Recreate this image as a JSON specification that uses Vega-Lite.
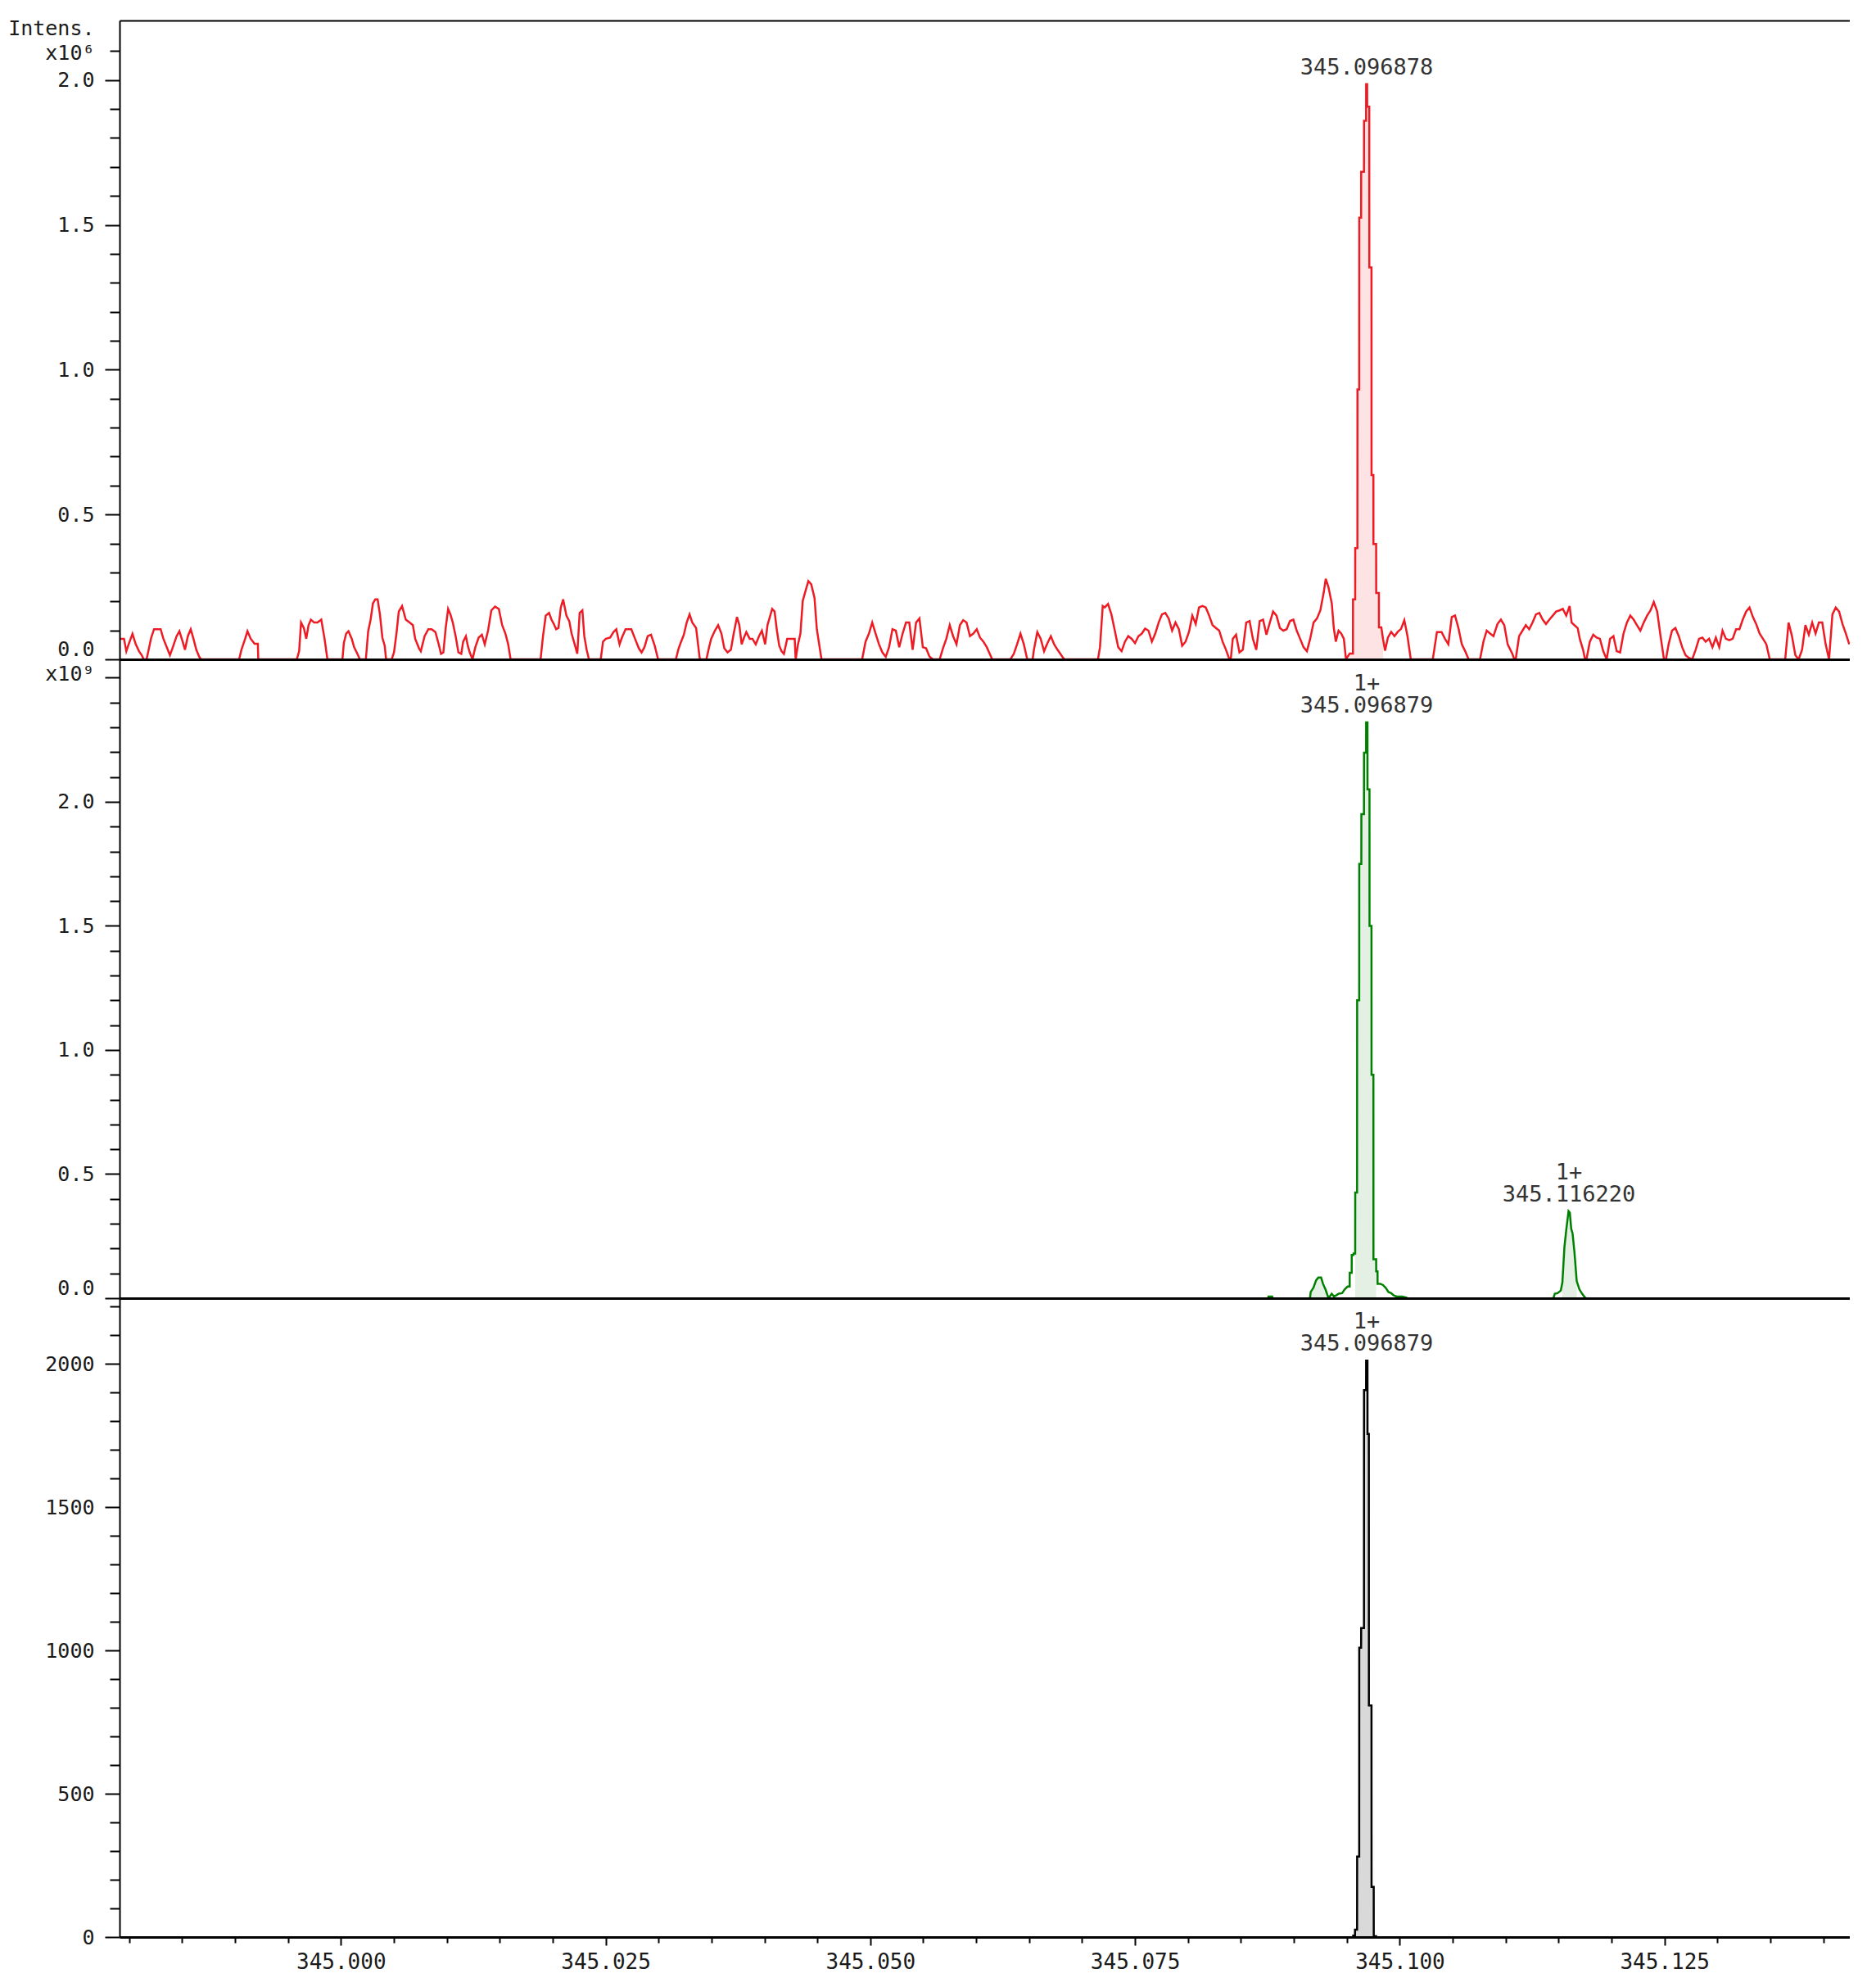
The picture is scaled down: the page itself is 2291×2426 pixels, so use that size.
{
"$schema": "https://vega.github.io/schema/vega-lite/v6.json",
"background": "white",
"padding": {"left": 0, "top": 22, "right": 0, "bottom": 0},
"bounds": "flush",
"spacing": 0,
"config": {
  "view": {"stroke": null},
  "axis": {"grid": false, "labelFont": "DejaVu Sans Mono", "labelFontSize": 25, "labelColor": "#1a1a1a", "titleFont": "DejaVu Sans Mono", "titleFontSize": 25, "titleFontWeight": "normal", "titleColor": "#1a1a1a", "domainColor": "#000000", "tickColor": "#000000", "labelOverlap": false, "labelBound": false},
  "text": {"font": "DejaVu Sans Mono", "fontSize": 27, "color": "#333333"}
},
"datasets": {
"ms1": [
{"mz":344.97916,"i":0.071},{"mz":344.97952,"i":0.071},{"mz":344.97974,"i":0.028},{"mz":344.97996,"i":0.052},{"mz":344.98032,"i":0.088},{"mz":344.98063,"i":0.052},{"mz":344.98094,"i":0.028},{"mz":344.9812,"i":0.014},{"mz":344.98138,"i":0},{"mz":344.98165,"i":0},{"mz":344.98182,"i":0.028},{"mz":344.98209,"i":0.075},{"mz":344.98236,"i":0.104},{"mz":344.98298,"i":0.104},{"mz":344.98324,"i":0.071},{"mz":344.9836,"i":0.038},{"mz":344.98386,"i":0.014},{"mz":344.98418,"i":0.047},{"mz":344.98449,"i":0.08},{"mz":344.98475,"i":0.097},{"mz":344.98506,"i":0.061},{"mz":344.98528,"i":0.033},{"mz":344.98555,"i":0.08},{"mz":344.98582,"i":0.104},{"mz":344.98608,"i":0.071},{"mz":344.98635,"i":0.033},{"mz":344.98662,"i":0.009},{"mz":344.98679,"i":0},
{"mz":344.99039,"i":0},{"mz":344.99061,"i":0.033},{"mz":344.99096,"i":0.071},{"mz":344.99118,"i":0.097},{"mz":344.99149,"i":0.071},{"mz":344.99185,"i":0.054},{"mz":344.99216,"i":0.054},{"mz":344.9922,"i":0},
{"mz":344.99584,"i":0},{"mz":344.99606,"i":0.028},{"mz":344.99624,"i":0.127},{"mz":344.99651,"i":0.108},{"mz":344.99673,"i":0.071},{"mz":344.99695,"i":0.118},{"mz":344.99717,"i":0.137},{"mz":344.99748,"i":0.127},{"mz":344.99779,"i":0.127},{"mz":344.99815,"i":0.137},{"mz":344.99846,"i":0.071},{"mz":344.99873,"i":0},
{"mz":345.00015,"i":0},{"mz":345.00028,"i":0.056},{"mz":345.0005,"i":0.089},{"mz":345.00072,"i":0.097},{"mz":345.00103,"i":0.071},{"mz":345.00125,"i":0.042},{"mz":345.00156,"i":0.019},{"mz":345.00179,"i":0},
{"mz":345.00236,"i":0},{"mz":345.00258,"i":0.097},{"mz":345.00281,"i":0.137},{"mz":345.00303,"i":0.193},{"mz":345.00325,"i":0.207},{"mz":345.00347,"i":0.207},{"mz":345.00369,"i":0.155},{"mz":345.00392,"i":0.075},{"mz":345.00414,"i":0.047},{"mz":345.00427,"i":0},
{"mz":345.0048,"i":0},{"mz":345.00502,"i":0.024},{"mz":345.00525,"i":0.089},{"mz":345.00547,"i":0.165},{"mz":345.00578,"i":0.184},{"mz":345.00613,"i":0.137},{"mz":345.00649,"i":0.127},{"mz":345.0068,"i":0.118},{"mz":345.00702,"i":0.071},{"mz":345.00738,"i":0.038},{"mz":345.00755,"i":0.028},{"mz":345.00791,"i":0.08},{"mz":345.00826,"i":0.104},{"mz":345.00857,"i":0.104},{"mz":345.00893,"i":0.094},{"mz":345.00924,"i":0.052},{"mz":345.00946,"i":0.019},{"mz":345.00968,"i":0.024},{"mz":345.0099,"i":0.108},{"mz":345.01013,"i":0.174},{"mz":345.01035,"i":0.155},{"mz":345.01057,"i":0.127},{"mz":345.01084,"i":0.08},{"mz":345.0111,"i":0.024},{"mz":345.01137,"i":0.019},{"mz":345.01155,"i":0.061},{"mz":345.01181,"i":0.08},{"mz":345.01199,"i":0.047},{"mz":345.01217,"i":0.024},{"mz":345.01243,"i":0},{"mz":345.0127,"i":0.042},{"mz":345.01301,"i":0.075},{"mz":345.01332,"i":0.085},{"mz":345.01359,"i":0.052},{"mz":345.0139,"i":0.099},{"mz":345.01421,"i":0.169},{"mz":345.01456,"i":0.182},{"mz":345.01492,"i":0.174},{"mz":345.01523,"i":0.118},{"mz":345.01554,"i":0.089},{"mz":345.0158,"i":0.052},{"mz":345.01603,"i":0},
{"mz":345.01886,"i":0},{"mz":345.01909,"i":0.08},{"mz":345.01935,"i":0.151},{"mz":345.01966,"i":0.16},{"mz":345.01989,"i":0.137},{"mz":345.02011,"i":0.122},{"mz":345.02033,"i":0.104},{"mz":345.02055,"i":0.108},{"mz":345.02077,"i":0.179},{"mz":345.02099,"i":0.207},{"mz":345.0213,"i":0.151},{"mz":345.02157,"i":0.132},{"mz":345.02179,"i":0.089},{"mz":345.02201,"i":0.061},{"mz":345.02233,"i":0.019},{"mz":345.02255,"i":0.16},{"mz":345.02281,"i":0.169},{"mz":345.02299,"i":0.08},{"mz":345.02321,"i":0.033},{"mz":345.02343,"i":0},
{"mz":345.02454,"i":0},{"mz":345.02476,"i":0.061},{"mz":345.02503,"i":0.071},{"mz":345.02543,"i":0.075},{"mz":345.02574,"i":0.094},{"mz":345.02601,"i":0.104},{"mz":345.02632,"i":0.052},{"mz":345.02654,"i":0.075},{"mz":345.02689,"i":0.104},{"mz":345.02743,"i":0.104},{"mz":345.02778,"i":0.071},{"mz":345.02814,"i":0.038},{"mz":345.0284,"i":0.024},{"mz":345.02867,"i":0.042},{"mz":345.02898,"i":0.08},{"mz":345.02929,"i":0.085},{"mz":345.02964,"i":0.047},{"mz":345.02996,"i":0},
{"mz":345.03164,"i":0},{"mz":345.03186,"i":0.033},{"mz":345.03208,"i":0.056},{"mz":345.03239,"i":0.085},{"mz":345.03266,"i":0.127},{"mz":345.03293,"i":0.155},{"mz":345.03319,"i":0.127},{"mz":345.03355,"i":0.108},{"mz":345.03373,"i":0.052},{"mz":345.0339,"i":0},
{"mz":345.03452,"i":0},{"mz":345.03475,"i":0.038},{"mz":345.03497,"i":0.071},{"mz":345.03532,"i":0.099},{"mz":345.03563,"i":0.118},{"mz":345.03594,"i":0.089},{"mz":345.03621,"i":0.038},{"mz":345.03652,"i":0.024},{"mz":345.03683,"i":0.033},{"mz":345.0371,"i":0.089},{"mz":345.03741,"i":0.146},{"mz":345.03763,"i":0.118},{"mz":345.03785,"i":0.052},{"mz":345.03807,"i":0.075},{"mz":345.03829,"i":0.094},{"mz":345.03861,"i":0.071},{"mz":345.03887,"i":0.071},{"mz":345.03918,"i":0.052},{"mz":345.03949,"i":0.08},{"mz":345.03976,"i":0.099},{"mz":345.04007,"i":0.052},{"mz":345.04029,"i":0.118},{"mz":345.04051,"i":0.146},{"mz":345.04073,"i":0.174},{"mz":345.04096,"i":0.165},{"mz":345.04118,"i":0.099},{"mz":345.0414,"i":0.047},{"mz":345.04162,"i":0.028},{"mz":345.04184,"i":0.019},{"mz":345.04215,"i":0.071},{"mz":345.04251,"i":0.071},{"mz":345.04286,"i":0.071},{"mz":345.04295,"i":0},{"mz":345.04317,"i":0.052},{"mz":345.0434,"i":0.089},{"mz":345.04362,"i":0.202},{"mz":345.04384,"i":0.231},{"mz":345.04415,"i":0.27},{"mz":345.04442,"i":0.259},{"mz":345.04473,"i":0.212},{"mz":345.04495,"i":0.104},{"mz":345.04517,"i":0.052},{"mz":345.04539,"i":0},
{"mz":345.04923,"i":0},{"mz":345.04955,"i":0.061},{"mz":345.04987,"i":0.089},{"mz":345.05018,"i":0.127},{"mz":345.0505,"i":0.089},{"mz":345.05082,"i":0.052},{"mz":345.05114,"i":0.024},{"mz":345.05146,"i":0.009},{"mz":345.05177,"i":0.042},{"mz":345.05209,"i":0.104},{"mz":345.05241,"i":0.099},{"mz":345.05273,"i":0.042},{"mz":345.05305,"i":0.089},{"mz":345.05337,"i":0.127},{"mz":345.05368,"i":0.127},{"mz":345.054,"i":0.033},{"mz":345.05432,"i":0.127},{"mz":345.05464,"i":0.141},{"mz":345.05496,"i":0.042},{"mz":345.05527,"i":0.038},{"mz":345.05559,"i":0.009},{"mz":345.05591,"i":0},
{"mz":345.05655,"i":0},{"mz":345.05686,"i":0.038},{"mz":345.05718,"i":0.071},{"mz":345.0575,"i":0.118},{"mz":345.05782,"i":0.08},{"mz":345.05814,"i":0.052},{"mz":345.05846,"i":0.118},{"mz":345.05877,"i":0.135},{"mz":345.05909,"i":0.127},{"mz":345.05941,"i":0.08},{"mz":345.05973,"i":0.089},{"mz":345.06005,"i":0.104},{"mz":345.06036,"i":0.075},{"mz":345.06068,"i":0.061},{"mz":345.061,"i":0.042},{"mz":345.06151,"i":0},
{"mz":345.06323,"i":0},{"mz":345.06355,"i":0.019},{"mz":345.06386,"i":0.052},{"mz":345.06418,"i":0.089},{"mz":345.0645,"i":0.052},{"mz":345.06482,"i":0},{"mz":345.06533,"i":0},{"mz":345.06545,"i":0.033},{"mz":345.06577,"i":0.094},{"mz":345.06609,"i":0.071},{"mz":345.06641,"i":0.028},{"mz":345.06673,"i":0.056},{"mz":345.06705,"i":0.08},{"mz":345.06736,"i":0.052},{"mz":345.06768,"i":0.033},{"mz":345.06813,"i":0.009},{"mz":345.06832,"i":0},
{"mz":345.0715,"i":0},{"mz":345.07169,"i":0.042},{"mz":345.07195,"i":0.184},{"mz":345.07214,"i":0.179},{"mz":345.07245,"i":0.191},{"mz":345.07277,"i":0.155},{"mz":345.07309,"i":0.099},{"mz":345.07341,"i":0.042},{"mz":345.07373,"i":0.028},{"mz":345.07405,"i":0.061},{"mz":345.07436,"i":0.08},{"mz":345.07468,"i":0.071},{"mz":345.075,"i":0.056},{"mz":345.07532,"i":0.08},{"mz":345.07564,"i":0.089},{"mz":345.07595,"i":0.106},{"mz":345.07627,"i":0.099},{"mz":345.07659,"i":0.061},{"mz":345.07691,"i":0.089},{"mz":345.07723,"i":0.127},{"mz":345.07754,"i":0.155},{"mz":345.07786,"i":0.16},{"mz":345.07818,"i":0.141},{"mz":345.0785,"i":0.099},{"mz":345.07882,"i":0.127},{"mz":345.07914,"i":0.104},{"mz":345.07945,"i":0.047},{"mz":345.07977,"i":0.061},{"mz":345.08009,"i":0.094},{"mz":345.08041,"i":0.151},{"mz":345.08073,"i":0.122},{"mz":345.08104,"i":0.179},{"mz":345.08136,"i":0.184},{"mz":345.08168,"i":0.179},{"mz":345.082,"i":0.151},{"mz":345.08232,"i":0.118},{"mz":345.08264,"i":0.108},{"mz":345.08295,"i":0.099},{"mz":345.08327,"i":0.061},{"mz":345.08359,"i":0.033},{"mz":345.08391,"i":0},
{"mz":345.08404,"i":0},{"mz":345.08423,"i":0.071},{"mz":345.08454,"i":0.085},{"mz":345.08486,"i":0.024},{"mz":345.08518,"i":0.033},{"mz":345.0855,"i":0.127},{"mz":345.08582,"i":0.132},{"mz":345.08613,"i":0.071},{"mz":345.08645,"i":0.033},{"mz":345.08677,"i":0.132},{"mz":345.08709,"i":0.137},{"mz":345.08741,"i":0.085},{"mz":345.08773,"i":0.127},{"mz":345.08804,"i":0.165},{"mz":345.08836,"i":0.151},{"mz":345.08868,"i":0.108},{"mz":345.089,"i":0.099},{"mz":345.08932,"i":0.104},{"mz":345.08963,"i":0.132},{"mz":345.08995,"i":0.137},{"mz":345.09027,"i":0.099},{"mz":345.09059,"i":0.071},{"mz":345.09091,"i":0.042},{"mz":345.09123,"i":0.028},{"mz":345.09154,"i":0.071},{"mz":345.09186,"i":0.127},{"mz":345.09218,"i":0.141},{"mz":345.0925,"i":0.169},{"mz":345.09282,"i":0.231},{"mz":345.09301,"i":0.278},{"mz":345.09326,"i":0.25},{"mz":345.09358,"i":0.193},{"mz":345.09377,"i":0.108},{"mz":345.09396,"i":0.061},{"mz":345.09422,"i":0.099},{"mz":345.09447,"i":0.089},{"mz":345.09472,"i":0.071},{"mz":345.09492,"i":0},
{"mz":345.09527,"i":0.02},{"mz":345.09558,"i":0.02},{"mz":345.095585,"i":0.207},{"mz":345.09579,"i":0.207},{"mz":345.095795,"i":0.384},{"mz":345.096,"i":0.384},{"mz":345.096005,"i":0.932},{"mz":345.09617,"i":0.932},{"mz":345.096175,"i":1.525},{"mz":345.09635,"i":1.525},{"mz":345.096355,"i":1.683},{"mz":345.09662,"i":1.683},{"mz":345.096625,"i":1.859},{"mz":345.09682,"i":1.859},{"mz":345.096825,"i":1.986},{"mz":345.09692,"i":1.986},{"mz":345.096925,"i":1.908},{"mz":345.09712,"i":1.908},{"mz":345.097125,"i":1.353},{"mz":345.09733,"i":1.353},{"mz":345.097335,"i":0.636},{"mz":345.09751,"i":0.636},{"mz":345.097515,"i":0.398},{"mz":345.09777,"i":0.398},{"mz":345.097775,"i":0.229},{"mz":345.09803,"i":0.229},{"mz":345.098035,"i":0.11},{"mz":345.09826,"i":0.11},{"mz":345.09842,"i":0.07},{"mz":345.09861,"i":0.03},{"mz":345.09888,"i":0.075},{"mz":345.09919,"i":0.095},{"mz":345.0995,"i":0.08},{"mz":345.09981,"i":0.095},{"mz":345.10012,"i":0.105},{"mz":345.10043,"i":0.135},{"mz":345.10073,"i":0.08},{"mz":345.10104,"i":0},
{"mz":345.10312,"i":0},{"mz":345.10351,"i":0.094},{"mz":345.10395,"i":0.094},{"mz":345.10427,"i":0.071},{"mz":345.10459,"i":0.052},{"mz":345.10491,"i":0.146},{"mz":345.10522,"i":0.151},{"mz":345.10554,"i":0.108},{"mz":345.10586,"i":0.052},{"mz":345.10618,"i":0.028},{"mz":345.1065,"i":0},
{"mz":345.10758,"i":0},{"mz":345.1079,"i":0.061},{"mz":345.10821,"i":0.099},{"mz":345.10853,"i":0.089},{"mz":345.10885,"i":0.08},{"mz":345.10923,"i":0.122},{"mz":345.10955,"i":0.137},{"mz":345.10987,"i":0.118},{"mz":345.11019,"i":0.052},{"mz":345.11063,"i":0.019},{"mz":345.11082,"i":0},{"mz":345.11095,"i":0},{"mz":345.11127,"i":0.08},{"mz":345.11159,"i":0.099},{"mz":345.1119,"i":0.118},{"mz":345.11222,"i":0.104},{"mz":345.11254,"i":0.127},{"mz":345.11286,"i":0.155},{"mz":345.11318,"i":0.16},{"mz":345.1135,"i":0.137},{"mz":345.11381,"i":0.122},{"mz":345.11413,"i":0.137},{"mz":345.11445,"i":0.151},{"mz":345.11477,"i":0.165},{"mz":345.11509,"i":0.169},{"mz":345.1154,"i":0.174},{"mz":345.11572,"i":0.151},{"mz":345.11604,"i":0.184},{"mz":345.11623,"i":0.127},{"mz":345.11649,"i":0.118},{"mz":345.1168,"i":0.108},{"mz":345.117,"i":0.071},{"mz":345.11731,"i":0.033},{"mz":345.1175,"i":0},
{"mz":345.11763,"i":0},{"mz":345.11795,"i":0.061},{"mz":345.11827,"i":0.085},{"mz":345.11859,"i":0.075},{"mz":345.1189,"i":0.071},{"mz":345.11922,"i":0.028},{"mz":345.11954,"i":0},{"mz":345.11986,"i":0.071},{"mz":345.12018,"i":0.08},{"mz":345.12049,"i":0.028},{"mz":345.12081,"i":0.024},{"mz":345.12113,"i":0.089},{"mz":345.12145,"i":0.127},{"mz":345.12177,"i":0.151},{"mz":345.12209,"i":0.137},{"mz":345.1224,"i":0.118},{"mz":345.12272,"i":0.099},{"mz":345.12304,"i":0.127},{"mz":345.12336,"i":0.151},{"mz":345.12368,"i":0.169},{"mz":345.12399,"i":0.198},{"mz":345.12431,"i":0.165},{"mz":345.12463,"i":0.08},{"mz":345.12495,"i":0},
{"mz":345.12514,"i":0},{"mz":345.12539,"i":0.052},{"mz":345.12571,"i":0.099},{"mz":345.12603,"i":0.108},{"mz":345.12635,"i":0.08},{"mz":345.12667,"i":0.042},{"mz":345.12699,"i":0.014},{"mz":345.1273,"i":0.005},{"mz":345.12762,"i":0},{"mz":345.12794,"i":0.033},{"mz":345.12826,"i":0.071},{"mz":345.12858,"i":0.075},{"mz":345.12889,"i":0.061},{"mz":345.12921,"i":0.071},{"mz":345.12953,"i":0.042},{"mz":345.12985,"i":0.075},{"mz":345.13017,"i":0.042},{"mz":345.13048,"i":0.099},{"mz":345.1308,"i":0.071},{"mz":345.13112,"i":0.066},{"mz":345.13144,"i":0.071},{"mz":345.13176,"i":0.104},{"mz":345.13208,"i":0.104},{"mz":345.13239,"i":0.137},{"mz":345.13271,"i":0.165},{"mz":345.13303,"i":0.179},{"mz":345.13335,"i":0.146},{"mz":345.13366,"i":0.122},{"mz":345.13398,"i":0.089},{"mz":345.1343,"i":0.071},{"mz":345.13462,"i":0.052},{"mz":345.13494,"i":0},
{"mz":345.1364,"i":0},{"mz":345.13672,"i":0.127},{"mz":345.13704,"i":0.08},{"mz":345.13736,"i":0.014},{"mz":345.13767,"i":0},{"mz":345.13799,"i":0.033},{"mz":345.13831,"i":0.118},{"mz":345.13863,"i":0.085},{"mz":345.13895,"i":0.127},{"mz":345.13927,"i":0.089},{"mz":345.13958,"i":0.127},{"mz":345.1399,"i":0.127},{"mz":345.14022,"i":0.052},{"mz":345.14054,"i":0},{"mz":345.14086,"i":0.155},{"mz":345.14117,"i":0.179},{"mz":345.14149,"i":0.165},{"mz":345.14181,"i":0.122},{"mz":345.14213,"i":0.089},{"mz":345.14245,"i":0.052}
],
"lab1": [{"mz":345.09687,"i":1.986,"label":"345.096878","charge":""}],
"ms2": [
{"mz":345.08756,"i":0,"seg":"a"},{"mz":345.0876,"i":0.007,"seg":"a"},{"mz":345.08795,"i":0.007,"seg":"a"},{"mz":345.088,"i":0,"seg":"a"},
{"mz":345.09152,"i":0,"seg":"b"},{"mz":345.09159,"i":0.025,"seg":"b"},{"mz":345.09185,"i":0.042,"seg":"b"},{"mz":345.0921,"i":0.072,"seg":"b"},{"mz":345.09231,"i":0.083,"seg":"b"},{"mz":345.09257,"i":0.083,"seg":"b"},{"mz":345.09275,"i":0.058,"seg":"b"},{"mz":345.09301,"i":0.033,"seg":"b"},{"mz":345.09321,"i":0.007,"seg":"b"},{"mz":345.09339,"i":0.007,"seg":"b"},{"mz":345.09357,"i":0.018,"seg":"b"},{"mz":345.09378,"i":0.007,"seg":"b"},{"mz":345.09399,"i":0.011,"seg":"b"},{"mz":345.09424,"i":0.018,"seg":"b"},{"mz":345.09455,"i":0.02,"seg":"b"},{"mz":345.09481,"i":0.036,"seg":"b"},{"mz":345.09507,"i":0.047,"seg":"b"},{"mz":345.09527,"i":0.047,"seg":"b"},
{"mz":345.095275,"i":0.102,"seg":"b"},{"mz":345.09546,"i":0.102,"seg":"b"},{"mz":345.095465,"i":0.174,"seg":"b"},{"mz":345.09563,"i":0.174,"seg":"b"},{"mz":345.095635,"i":0.18,"seg":"b"},{"mz":345.09579,"i":0.18,"seg":"b"},{"mz":345.095795,"i":0.426,"seg":"b"},{"mz":345.09597,"i":0.426,"seg":"b"},{"mz":345.095975,"i":1.2,"seg":"b"},{"mz":345.09617,"i":1.2,"seg":"b"},{"mz":345.096175,"i":1.75,"seg":"b"},{"mz":345.09637,"i":1.75,"seg":"b"},{"mz":345.096375,"i":1.95,"seg":"b"},{"mz":345.09662,"i":1.95,"seg":"b"},{"mz":345.096625,"i":2.198,"seg":"b"},{"mz":345.09682,"i":2.198,"seg":"b"},{"mz":345.096825,"i":2.32,"seg":"b"},{"mz":345.09695,"i":2.32,"seg":"b"},{"mz":345.096955,"i":2.05,"seg":"b"},{"mz":345.09714,"i":2.05,"seg":"b"},{"mz":345.097145,"i":1.5,"seg":"b"},{"mz":345.09733,"i":1.5,"seg":"b"},{"mz":345.097335,"i":0.9,"seg":"b"},{"mz":345.09751,"i":0.9,"seg":"b"},{"mz":345.097515,"i":0.157,"seg":"b"},{"mz":345.09777,"i":0.157,"seg":"b"},{"mz":345.097775,"i":0.108,"seg":"b"},{"mz":345.0979,"i":0.108,"seg":"b"},{"mz":345.097905,"i":0.058,"seg":"b"},{"mz":345.09816,"i":0.058,"seg":"b"},{"mz":345.09842,"i":0.053,"seg":"b"},{"mz":345.09867,"i":0.042,"seg":"b"},{"mz":345.09893,"i":0.025,"seg":"b"},{"mz":345.09919,"i":0.02,"seg":"b"},{"mz":345.09944,"i":0.011,"seg":"b"},{"mz":345.09971,"i":0.007,"seg":"b"},{"mz":345.10022,"i":0.007,"seg":"b"},{"mz":345.1006,"i":0.003,"seg":"b"},{"mz":345.10073,"i":0,"seg":"b"},
{"mz":345.11451,"i":0,"seg":"c"},{"mz":345.11464,"i":0.018,"seg":"c"},{"mz":345.1149,"i":0.02,"seg":"c"},{"mz":345.11521,"i":0.031,"seg":"c"},{"mz":345.11536,"i":0.064,"seg":"c"},{"mz":345.11555,"i":0.206,"seg":"c"},{"mz":345.11573,"i":0.278,"seg":"c"},{"mz":345.11594,"i":0.351,"seg":"c"},{"mz":345.11606,"i":0.345,"seg":"c"},{"mz":345.11619,"i":0.28,"seg":"c"},{"mz":345.11632,"i":0.261,"seg":"c"},{"mz":345.1165,"i":0.184,"seg":"c"},{"mz":345.11671,"i":0.069,"seg":"c"},{"mz":345.11696,"i":0.036,"seg":"c"},{"mz":345.11722,"i":0.018,"seg":"c"},{"mz":345.11748,"i":0.003,"seg":"c"},{"mz":345.1176,"i":0,"seg":"c"}
],
"lab2": [{"mz":345.09687,"i":2.32,"label":"345.096879","charge":"1+"},{"mz":345.11598,"i":0.351,"label":"345.116220","charge":"1+"}],
"ms3": [
{"mz":345.0955,"i":0},{"mz":345.0956,"i":0},{"mz":345.095605,"i":5},{"mz":345.09577,"i":5},{"mz":345.095775,"i":26},{"mz":345.09597,"i":26},{"mz":345.095975,"i":281},{"mz":345.09617,"i":281},{"mz":345.096175,"i":1009},{"mz":345.09635,"i":1009},{"mz":345.096355,"i":1078},{"mz":345.09662,"i":1078},{"mz":345.096625,"i":1908},{"mz":345.09682,"i":1908},{"mz":345.096825,"i":2011},{"mz":345.09695,"i":2011},{"mz":345.096955,"i":1755},{"mz":345.09708,"i":1755},{"mz":345.097085,"i":808},{"mz":345.09733,"i":808},{"mz":345.097335,"i":175},{"mz":345.09754,"i":175},{"mz":345.097545,"i":3},{"mz":345.09777,"i":3},{"mz":345.097775,"i":0}
],
"lab3": [{"mz":345.09687,"i":2011,"label":"345.096879","charge":"1+"}]
},
"vconcat": [
{
 "width": 2113, "height": 780,
 "layer": [
  {"data": {"name": "ms1"},
   "transform": [{"filter": {"field": "mz", "range": [345.0952, 345.0986]}}],
   "mark": {"type": "area", "color": "#fde3e3", "clip": true},
   "encoding": {
    "x": {"field": "mz", "type": "quantitative", "scale": {"domain": [344.9791, 345.1425], "nice": false, "zero": false}, "axis": null},
    "y": {"field": "i", "type": "quantitative", "scale": {"domain": [0, 2.2056], "nice": false}, "axis": {"orient": "left", "values": [0.1,0.2,0.3,0.4,0.6,0.7,0.8,0.9,1.1,1.2,1.3,1.4,1.6,1.7,1.8,1.9,2.1], "tickSize": 12, "tickWidth": 2, "labels": false, "domain": false, "title": null, "zindex": 1}}
   }},
  {"data": {"name": "ms1"},
   "mark": {"type": "line", "color": "#ed1c24", "strokeWidth": 2.5, "clip": true},
   "encoding": {
    "x": {"field": "mz", "type": "quantitative", "scale": {"domain": [344.9791, 345.1425], "nice": false, "zero": false}, "axis": {"orient": "bottom", "domain": true, "domainWidth": 3, "ticks": false, "labels": false, "title": null, "zindex": 1}},
    "y": {"field": "i", "type": "quantitative", "scale": {"domain": [0, 2.2056], "nice": false}, "axis": {"orient": "left", "values": [0, 0.5, 1, 1.5, 2], "format": ".1f", "tickSize": 18, "tickWidth": 2, "domainWidth": 2, "labelPadding": 13, "labelFlush": true, "title": ["Intens.", "x10⁶"], "titleAngle": 0, "titleAlign": "right", "titleBaseline": "alphabetic", "titleX": -31, "titleY": 17, "titleLineHeight": 30, "titlePadding": 0, "minExtent": 146, "maxExtent": 146, "zindex": 1}}
   }},
  {"data": {"name": "lab1"},
   "mark": {"type": "text", "baseline": "bottom", "dy": -6},
   "encoding": {
    "x": {"field": "mz", "type": "quantitative", "scale": {"domain": [344.9791, 345.1425], "nice": false, "zero": false}, "axis": {"orient": "top", "domain": true, "domainWidth": 2, "ticks": false, "labels": false, "title": null}},
    "y": {"field": "i", "type": "quantitative", "scale": {"domain": [0, 2.2056], "nice": false}, "axis": null},
    "text": {"field": "label"}
   }}
 ],
 "resolve": {"axis": {"x": "independent", "y": "independent"}}
},
{
 "width": 2113, "height": 780,
 "layer": [
  {"data": {"name": "ms2"},
   "transform": [{"filter": {"field": "mz", "range": [345.0915, 345.0932]}}],
   "mark": {"type": "area", "color": "#e3f0e3", "clip": true},
   "encoding": {
    "x": {"field": "mz", "type": "quantitative", "scale": {"domain": [344.9791, 345.1425], "nice": false, "zero": false}, "axis": null},
    "y": {"field": "i", "type": "quantitative", "scale": {"domain": [0, 2.574], "nice": false}, "axis": {"orient": "left", "values": [0.1,0.2,0.3,0.4,0.6,0.7,0.8,0.9,1.1,1.2,1.3,1.4,1.6,1.7,1.8,1.9,2.1,2.2,2.3,2.4], "tickSize": 12, "tickWidth": 2, "labels": false, "domain": false, "title": null, "zindex": 1}}
   }},
  {"data": {"name": "ms2"},
   "transform": [{"filter": {"field": "mz", "range": [345.0957, 345.0978]}}],
   "mark": {"type": "area", "color": "#e3f0e3", "clip": true},
   "encoding": {
    "x": {"field": "mz", "type": "quantitative", "scale": {"domain": [344.9791, 345.1425], "nice": false, "zero": false}, "axis": null},
    "y": {"field": "i", "type": "quantitative", "scale": {"domain": [0, 2.574], "nice": false}, "axis": null}
   }},
  {"data": {"name": "ms2"},
   "transform": [{"filter": {"field": "mz", "range": [345.1153, 345.1168]}}],
   "mark": {"type": "area", "color": "#e3f0e3", "clip": true},
   "encoding": {
    "x": {"field": "mz", "type": "quantitative", "scale": {"domain": [344.9791, 345.1425], "nice": false, "zero": false}, "axis": null},
    "y": {"field": "i", "type": "quantitative", "scale": {"domain": [0, 2.574], "nice": false}, "axis": null}
   }},
  {"data": {"name": "ms2"},
   "mark": {"type": "line", "color": "#008000", "strokeWidth": 2.5, "clip": true},
   "encoding": {
    "x": {"field": "mz", "type": "quantitative", "scale": {"domain": [344.9791, 345.1425], "nice": false, "zero": false}, "axis": {"orient": "bottom", "domain": true, "domainWidth": 3, "ticks": false, "labels": false, "title": null, "zindex": 1}},
    "y": {"field": "i", "type": "quantitative", "scale": {"domain": [0, 2.574], "nice": false}, "axis": {"orient": "left", "values": [0, 0.5, 1, 1.5, 2, 2.5], "labelExpr": "datum.value > 2.4 ? '' : format(datum.value, '.1f')", "tickSize": 18, "tickWidth": 2, "domainWidth": 2, "labelPadding": 13, "labelFlush": true, "title": "x10⁹", "titleAngle": 0, "titleAlign": "right", "titleBaseline": "alphabetic", "titleX": -31, "titleY": 25, "titlePadding": 0, "minExtent": 146, "maxExtent": 146, "zindex": 1}},
    "detail": {"field": "seg"}
   }},
  {"data": {"name": "lab2"},
   "mark": {"type": "text", "baseline": "bottom", "dy": -6},
   "encoding": {
    "x": {"field": "mz", "type": "quantitative", "scale": {"domain": [344.9791, 345.1425], "nice": false, "zero": false}, "axis": null},
    "y": {"field": "i", "type": "quantitative", "scale": {"domain": [0, 2.574], "nice": false}, "axis": null},
    "text": {"field": "label"}
   }},
  {"data": {"name": "lab2"},
   "mark": {"type": "text", "baseline": "bottom", "dy": -33},
   "encoding": {
    "x": {"field": "mz", "type": "quantitative", "scale": {"domain": [344.9791, 345.1425], "nice": false, "zero": false}, "axis": null},
    "y": {"field": "i", "type": "quantitative", "scale": {"domain": [0, 2.574], "nice": false}, "axis": null},
    "text": {"field": "charge"}
   }}
 ],
 "resolve": {"axis": {"x": "independent", "y": "independent"}}
},
{
 "width": 2113, "height": 780,
 "layer": [
  {"data": {"name": "ms3"},
   "mark": {"type": "area", "color": "#d9d9d9", "clip": true},
   "encoding": {
    "x": {"field": "mz", "type": "quantitative", "scale": {"domain": [344.9791, 345.1425], "nice": false, "zero": false}, "axis": {"orient": "bottom", "values": [344.98,344.985,344.99,344.995,345.005,345.01,345.015,345.02,345.03,345.035,345.04,345.045,345.055,345.06,345.065,345.07,345.08,345.085,345.09,345.095,345.105,345.11,345.115,345.12,345.13,345.135,345.14], "tickSize": 7, "tickWidth": 2, "labels": false, "domain": false, "title": null, "zindex": 1}},
    "y": {"field": "i", "type": "quantitative", "scale": {"domain": [0, 2228.6], "nice": false}, "axis": {"orient": "left", "values": [100,200,300,400,600,700,800,900,1100,1200,1300,1400,1600,1700,1800,1900,2100,2200], "tickSize": 12, "tickWidth": 2, "labels": false, "domain": false, "title": null, "zindex": 1}}
   }},
  {"data": {"name": "ms3"},
   "mark": {"type": "line", "color": "#000000", "strokeWidth": 2.5, "clip": true},
   "encoding": {
    "x": {"field": "mz", "type": "quantitative", "scale": {"domain": [344.9791, 345.1425], "nice": false, "zero": false}, "axis": {"orient": "bottom", "values": [345.0, 345.025, 345.05, 345.075, 345.1, 345.125], "format": ".3f", "tickSize": 10, "tickWidth": 2, "domainWidth": 3, "labelPadding": 7, "labelFontSize": 26, "title": null, "zindex": 1}},
    "y": {"field": "i", "type": "quantitative", "scale": {"domain": [0, 2228.6], "nice": false}, "axis": {"orient": "left", "values": [0, 500, 1000, 1500, 2000], "format": "d", "tickSize": 18, "tickWidth": 2, "domainWidth": 2, "labelPadding": 13, "title": null, "minExtent": 146, "maxExtent": 146, "zindex": 1}}
   }},
  {"data": {"name": "lab3"},
   "mark": {"type": "text", "baseline": "bottom", "dy": -6},
   "encoding": {
    "x": {"field": "mz", "type": "quantitative", "scale": {"domain": [344.9791, 345.1425], "nice": false, "zero": false}, "axis": null},
    "y": {"field": "i", "type": "quantitative", "scale": {"domain": [0, 2228.6], "nice": false}, "axis": null},
    "text": {"field": "label"}
   }},
  {"data": {"name": "lab3"},
   "mark": {"type": "text", "baseline": "bottom", "dy": -33},
   "encoding": {
    "x": {"field": "mz", "type": "quantitative", "scale": {"domain": [344.9791, 345.1425], "nice": false, "zero": false}, "axis": null},
    "y": {"field": "i", "type": "quantitative", "scale": {"domain": [0, 2228.6], "nice": false}, "axis": null},
    "text": {"field": "charge"}
   }}
 ],
 "resolve": {"axis": {"x": "independent", "y": "independent"}}
}
]
}
